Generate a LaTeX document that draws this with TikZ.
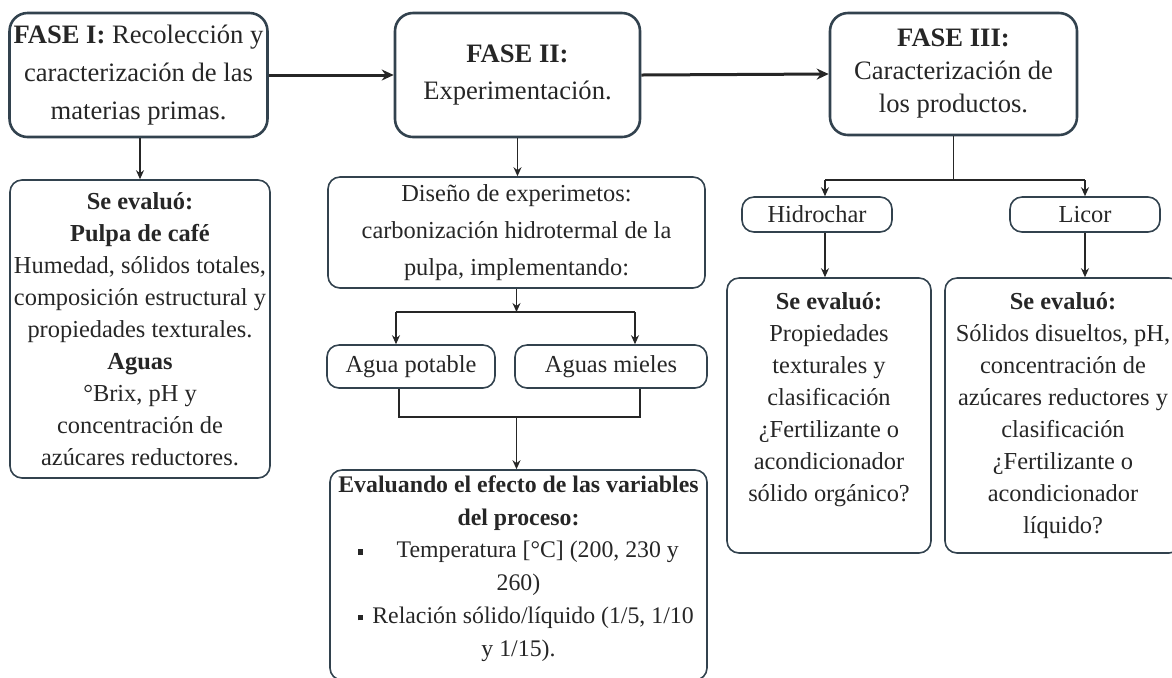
\documentclass[tikz,border=0pt]{standalone}
\usepackage{fontspec}
\setmainfont{Liberation Serif}
\usetikzlibrary{positioning, calc, arrows.meta}
\definecolor{borde}{RGB}{50,66,78}
\definecolor{tinta}{RGB}{38,38,38}
\newcommand{\cuadrito}{\raisebox{0.3ex}{\rule{2.6pt}{2.6pt}}}

\begin{document}
\begin{tikzpicture}[x=0.5pt, y=-0.5pt, >={Stealth[length=4.5pt, width=4pt]},
  font=\fontsize{12.2}{16}\selectfont, text=tinta,
  fase/.style={draw=borde, line width=1.3pt, rounded corners=9pt, inner sep=2pt, align=center,
    font=\fontsize{13.3}{19}\selectfont},
  caja/.style={draw=borde, line width=0.8pt, rounded corners=6pt, inner sep=1pt, align=center},
  texto/.style={inner sep=0pt, align=center, anchor=north},
  flecha/.style={->, draw=tinta, line width=0.75pt},
  linea/.style={draw=tinta, line width=0.75pt},
  flechagruesa/.style={-{Stealth[length=6pt, width=5.5pt]}, draw=tinta, line width=1.5pt}]

% 1 unit = 1 px of the 1172 x 677 frame, y grows downwards
\useasboundingbox (0,0) rectangle (1172,677);

%% ── phases ───────────────────────────────────────────────────────
\node[fase, minimum width=128.5pt, minimum height=62pt] (faseI) at (138.5,75)
  {\textbf{FASE I:} Recolección y\\caracterización de las\\materias primas.};
\node[fase, minimum width=122.5pt, minimum height=62pt, font=\fontsize{13.3}{18.5}\selectfont] (faseII) at (517.5,75)
  {\textbf{FASE II:}\\Experimentación.};
\node[fase, minimum width=123.5pt, minimum height=61pt, font=\fontsize{13.3}{16.5}\selectfont] (faseIII) at (953.5,74)
  {\textbf{FASE III:}\\Caracterización de\\los productos.};

%% ── column I ─────────────────────────────────────────────────────
\node[caja, minimum width=130pt, minimum height=149pt] (evalI) at (140,329)
  {\textbf{Se evaluó:}\\\textbf{Pulpa de café}\\Humedad, sólidos totales,\\composición estructural y\\
   propiedades texturales.\\\textbf{Aguas}\\°Brix, pH y\\concentración de\\azúcares reductores.};

%% ── column II ────────────────────────────────────────────────────
\node[caja, minimum width=188.5pt, minimum height=55.5pt, font=\fontsize{12.2}{18.5}\selectfont] (diseno) at (516.5,232.5)
  {Diseño de experimetos:\\carbonización hidrotermal de la\\pulpa, implementando:};
\node[caja, minimum width=84pt, minimum height=21.5pt] (potable) at (411,366.5) {Agua potable};
\node[caja, minimum width=96pt, minimum height=21.5pt] (mieles) at (611,366.5) {Aguas mieles};
\node[caja, minimum width=188.5pt, minimum height=105pt] (evaluando) at (518.5,575) {};
\node[texto, font=\fontsize{11.9}{16.4}\selectfont] (tevaluando) at ([yshift=-3pt]evaluando.north)
  {\textbf{Evaluando el efecto de las variables}\\\textbf{del proceso:}\\
   \cuadrito\hspace{1.4em}Temperatura [°C] (200, 230 y\\260)\\
   \hspace{0.6em}\cuadrito\hspace{0.4em}Relación sólido/líquido (1/5, 1/10\\y 1/15).};

%% ── column III ───────────────────────────────────────────────────
\node[caja, minimum width=75pt, minimum height=17.5pt] (hidrochar) at (817,214.5) {Hidrochar};
\node[caja, minimum width=75pt, minimum height=17.5pt] (licor) at (1085,214.5) {Licor};
\node[caja, minimum width=102pt, minimum height=137.5pt] (evalH) at (829,415.5) {};
\node[caja, minimum width=118pt, minimum height=137.5pt] (evalL) at (1063,415.5) {};
\node[texto] (tevalH) at ([yshift=-7.5pt]evalH.north)
  {\textbf{Se evaluó:}\\Propiedades\\texturales y\\clasificación\\¿Fertilizante o\\acondicionador\\sólido orgánico?};
\node[texto] (tevalL) at ([yshift=-7.5pt]evalL.north)
  {\textbf{Se evaluó:}\\Sólidos disueltos, pH,\\concentración de\\azúcares reductores y\\clasificación\\¿Fertilizante o\\acondicionador\\líquido?};

%% ── branch points ────────────────────────────────────────────────
\coordinate (bII)  at (516.5,312);
\coordinate (bIIa) at (396,312);
\coordinate (bIIb) at (635,312);
\coordinate (uIIa) at (399,417);
\coordinate (uIIb) at (640,417);
\coordinate (uII)  at (516.5,417);
\coordinate (bIII)  at (953.5,180);
\coordinate (bIIIa) at (825,180);
\coordinate (bIIIb) at (1085,180);

%% ── connectors ───────────────────────────────────────────────────
\draw[flechagruesa] (faseI.east) -- (faseII.west);
\draw[flechagruesa] (faseII.east) -- (faseIII.west);
\draw[flecha] (faseI.south -| evalI.north) -- (evalI.north);
\draw[flecha] (faseII.south) -- (faseII.south |- diseno.north);

\draw[flecha] (diseno.south) -- (bII);
\draw[linea] (bIIa) -- (bIIb);
\draw[flecha] (bIIa) -- (bIIa |- potable.north);
\draw[flecha] (bIIb) -- (bIIb |- mieles.north);
\draw[linea] (uIIa |- potable.south) -- (uIIa) -- (uIIb) -- (uIIb |- mieles.south);
\draw[flecha] (uII) -- (uII |- evaluando.north);

\draw[linea] (faseIII.south) -- (bIII);
\draw[linea] (bIIIa) -- (bIIIb);
\draw[flecha] (bIIIa) -- (bIIIa |- hidrochar.north);
\draw[flecha] (bIIIb) -- (bIIIb |- licor.north);
\draw[flecha] (bIIIa |- hidrochar.south) -- (bIIIa |- evalH.north);
\draw[flecha] (bIIIb |- licor.south) -- (bIIIb |- evalL.north);

\end{tikzpicture}
\end{document}
